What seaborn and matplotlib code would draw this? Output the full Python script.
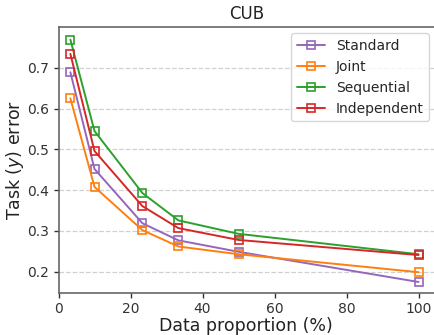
import pandas as pd
import matplotlib
matplotlib.use("Agg")
import matplotlib.pyplot as plt
import seaborn as sns

# === Data ===
proportions = [3.3, 10, 23.3, 33.3, 50, 100]
methods = ["Standard", "Joint", "Sequential", "Independent"]
standard = [0.689, 0.452, 0.319, 0.277, 0.249, 0.175]
joint = [0.625, 0.408, 0.302, 0.262, 0.243, 0.199]
sequential = [0.769, 0.545, 0.393, 0.326, 0.293, 0.243]
independent = [0.734, 0.496, 0.361, 0.307, 0.278, 0.241]
colors = ["#9467bd", "#ff7f0e", "#2ca02c", "#d62728"]

rows = []
for name, vals in zip(methods, [standard, joint, sequential, independent]):
    for p, v in zip(proportions, vals):
        rows.append({"proportion": p, "error": v, "method": name})
df = pd.DataFrame(rows)

sns.set_theme(style="ticks")
plt.rcParams["font.family"] = ["DejaVu Sans"]

fig = plt.figure(figsize=(4.34, 3.35), dpi=100)
ax = fig.add_axes([0.1348, 0.1254, 0.8652, 0.794])

sns.lineplot(
    data=df, x="proportion", y="error", hue="method",
    hue_order=methods, palette=colors, marker="s",
    markersize=6, markerfacecolor="none", markeredgewidth=1.2,
    linewidth=1.4, ax=ax,
)
for line in ax.lines:
    line.set_markeredgecolor(line.get_color())
    line.set_markerfacecolor("none")

ax.set_xlim(0, 104.3)
ax.set_ylim(0.148, 0.80)
ax.set_xticks([0, 20, 40, 60, 80, 100])
ax.set_yticks([0.2, 0.3, 0.4, 0.5, 0.6, 0.7])
ax.yaxis.grid(True, linestyle="--", color="#d0d0d0", linewidth=0.9)
ax.set_axisbelow(True)

for side in ["left", "bottom", "top"]:
    ax.spines[side].set_color("#666666")
    ax.spines[side].set_linewidth(1.2)
ax.spines["right"].set_visible(False)
ax.tick_params(colors="#333333", labelsize=10, length=3.5, width=1,
               direction="out", pad=3)

ax.set_title("CUB", fontsize=12, color="#222222")
ax.set_xlabel("Data proportion (%)", fontsize=12.5, color="#222222", labelpad=1)
ax.set_ylabel("Task ($y$) error", fontsize=12.5, color="#222222", labelpad=1)

leg = ax.legend(loc="upper right", fontsize=10, frameon=True, fancybox=True,
                bbox_to_anchor=(0.987, 0.977), borderaxespad=0, handlelength=2.0)
leg.get_frame().set_edgecolor("#cccccc")
for h in leg.legend_handles:
    h.set_markerfacecolor("none")

fig.savefig("out.png", dpi=100)
